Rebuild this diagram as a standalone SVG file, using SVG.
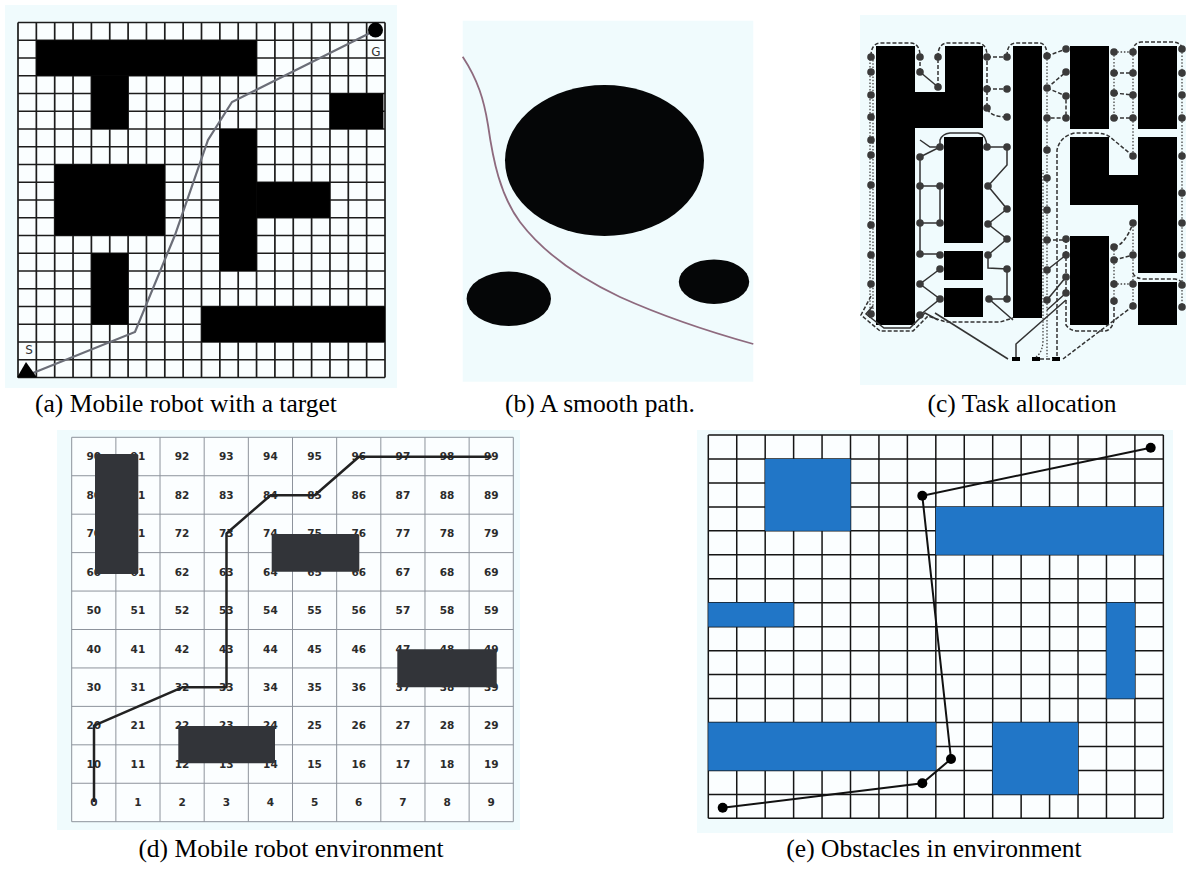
<svg xmlns="http://www.w3.org/2000/svg" width="1186" height="869" viewBox="0 0 1186 869">
<style>
.bg{fill:#f0fbfd}
.cap{font-family:"Liberation Serif","Times New Roman",serif;font-size:25.5px;fill:#000;text-anchor:middle}
.ga{fill:none;stroke:#1c1c1c;stroke-width:1.7}
.gd{fill:none;stroke:#8d939c;stroke-width:1}
.ge{fill:none;stroke:#151515;stroke-width:1.5}
.obA{fill:#000}
.obD{fill:#323439}
.obE{fill:#2176c7}
.num{font-family:"DejaVu Sans",Verdana,sans-serif;font-size:10.5px;font-weight:bold;fill:#2b2b2b;text-anchor:middle}
.lbl{font-family:"DejaVu Sans","Liberation Sans",sans-serif;font-size:12px;fill:#333;text-anchor:middle}
.dot{fill:#3a3a3a}
.sd{fill:none;stroke:#333;stroke-width:1.5}
.dd{fill:none;stroke:#333;stroke-width:1.5;stroke-dasharray:4 2}
.dt{fill:none;stroke:#444;stroke-width:1.3;stroke-dasharray:1.5 1.8}
</style>

<!-- Panel (a) -->
<g id="panel-a">
<rect class="bg" x="5" y="5" width="392" height="383"/>
<rect x="18" y="22.5" width="367" height="355" fill="#fafeff"/>
<path class="ga" d="M18,22.5V377.5M36.35,22.5V377.5M54.7,22.5V377.5M73.05,22.5V377.5M91.4,22.5V377.5M109.75,22.5V377.5M128.1,22.5V377.5M146.45,22.5V377.5M164.8,22.5V377.5M183.15,22.5V377.5M201.5,22.5V377.5M219.85,22.5V377.5M238.2,22.5V377.5M256.55,22.5V377.5M274.9,22.5V377.5M293.25,22.5V377.5M311.6,22.5V377.5M329.95,22.5V377.5M348.3,22.5V377.5M366.65,22.5V377.5M385,22.5V377.5M18,22.5H385M18,40.25H385M18,58H385M18,75.75H385M18,93.5H385M18,111.25H385M18,129H385M18,146.75H385M18,164.5H385M18,182.25H385M18,200H385M18,217.75H385M18,235.5H385M18,253.25H385M18,271H385M18,288.75H385M18,306.5H385M18,324.25H385M18,342H385M18,359.75H385M18,377.5H385"/>
<rect class="obA" x="36.35" y="40.25" width="220.2" height="35.5"/>
<rect class="obA" x="91.4" y="75.75" width="36.7" height="53.25"/>
<rect class="obA" x="329.95" y="93.5" width="53.5" height="35.5"/>
<rect class="obA" x="54.7" y="164.5" width="110.1" height="71"/>
<rect class="obA" x="219.85" y="129" width="36.7" height="142"/>
<rect class="obA" x="256.55" y="182.25" width="73.4" height="35.5"/>
<rect class="obA" x="91.4" y="253.25" width="36.7" height="71"/>
<rect class="obA" x="201.5" y="306.5" width="183.5" height="35.5"/>
<polyline points="28,375 135,332 175,235 208,140 232,102 376,30" fill="none" stroke="#6b6e78" stroke-width="2.2"/>
<polygon points="17,377.5 37,377.5 26,362" fill="#000"/>
<circle cx="375.5" cy="30" r="7.5" fill="#000"/>
<text class="lbl" x="29" y="354">S</text>
<text class="lbl" x="376" y="56">G</text>
</g>
<text class="cap" x="186" y="412">(a) Mobile robot with a target</text>

<!-- Panel (b) -->
<g id="panel-b">
<rect class="bg" x="462.7" y="20.7" width="290.6" height="361"/>
<ellipse cx="604.5" cy="160.5" rx="99.5" ry="75.5" fill="#050607"/>
<ellipse cx="508.8" cy="298.8" rx="42.2" ry="27.2" fill="#050607"/>
<ellipse cx="714" cy="281.7" rx="35.2" ry="22.3" fill="#050607"/>
<path d="M462.7,56.7 C478,80 484,100 488,125 C493,160 500,195 520,222 C545,255 580,278 620,297 C660,315 710,332 753.3,344" fill="none" stroke="#8e6a7e" stroke-width="1.8"/>
</g>
<text class="cap" x="600" y="412">(b) A smooth path.</text>

<!-- Panel (c) -->
<g id="panel-c">
<rect class="bg" x="860" y="15" width="326" height="370"/>
<g id="c-blocks">
<path class="obA" d="M876,46H915V92H945V46H983V128H915V325H876Z"/>
<rect class="obA" x="944" y="137" width="39" height="106"/>
<rect class="obA" x="944" y="251" width="39" height="29"/>
<rect class="obA" x="944" y="288" width="39" height="29"/>
<rect class="obA" x="1013" y="46" width="29" height="272"/>
<rect class="obA" x="1070" y="46" width="39" height="83"/>
<rect class="obA" x="1138" y="46" width="39" height="83"/>
<path class="obA" d="M1070,137H1109V175H1138V137H1177V273H1138V205H1070Z"/>
<rect class="obA" x="1070" y="236" width="39" height="89"/>
<rect class="obA" x="1138" y="282" width="39" height="43"/>
<rect class="obA" x="1012" y="357" width="8" height="4"/>
<rect class="obA" x="1032" y="357" width="8" height="4"/>
<rect class="obA" x="1052" y="357" width="8" height="4"/>
</g>
<g id="c-routes">
<path class="dd" d="M871,56Q871,44 880,43H911Q920,44 920,56V72"/>
<path class="dd" d="M938,87V56Q938,44 947,43H978Q987,44 987,56V108Q990,117 1007,117"/>
<path class="dd" d="M987,57H1007M987,89H1007"/>
<path class="dd" d="M1007,56Q1007,44 1015,43H1040Q1047,44 1047,56"/>
<path class="dd" d="M1133,52Q1133,43 1141,42H1173Q1182,43 1182,49"/>
<path class="dt" d="M870,56V318M873,60V314"/>
<path class="sd" d="M920,72L938,87"/>
<path class="sd" d="M920,140L930,147H940M920,157L940,147V140Q942,134 950,133H978Q986,134 987,147"/>
<path class="sd" d="M920,157V254M920,186H940V223M920,223H940M920,254H940M940,269L920,284L940,299L920,315"/>
<path class="sd" d="M987,147H1007V165L988,186L1007,209L988,224L1007,239L988,255V268L1007,269V299H989L1013,320"/>
<path class="dt" d="M1047,56V357"/>
<path class="dd" d="M1047,56L1066,49M1047,88L1066,72M1047,88L1066,96V118H1047"/>
<path class="dd" d="M1133,156L1110,137Q1105,133 1095,133H1075Q1060,136 1057,150V357"/>
<path class="dd" d="M1047,240H1066V293M1066,300V325Q1070,331 1078,331H1105Q1112,330 1114,320V301"/>
<path class="sd" d="M1047,270L1066,255M1047,300L1066,277M1047,310L1066,293"/>
<path class="dt" d="M1114,52V118M1133,52V156M1114,52H1133M1114,247V301M1133,223V306M1182,49V307"/>
<path class="dd" d="M1114,73H1133M1114,93L1133,95M1114,118H1133M1114,247Q1125,245 1133,223M1114,260L1133,255"/>
<path class="dt" d="M1114,284H1133"/>
<path class="dd" d="M1133,273Q1135,279 1145,279H1175Q1182,280 1182,285"/>
<path class="dd" d="M1133,306L1063,359"/>
<path class="dd" d="M871,296L861,315L880,331H913L928,316L946,322H1000L1013,318"/>
<path class="sd" d="M873,306L866,314L884,328H910L925,313L938,320"/>
<path class="sd" d="M935,313L1008,359"/>
<path class="sd" d="M1016,357V344L1066,300"/>
<path class="dd" d="M1040,359H1053"/>
<path class="dt" d="M1036,357Q1043,352 1043,340V170"/>
</g>
<g id="c-dots" class="dot">
<circle cx="871" cy="57" r="3.8"/><circle cx="871" cy="72" r="3.8"/><circle cx="871" cy="95" r="3.8"/><circle cx="871" cy="117" r="3.8"/><circle cx="871" cy="140" r="3.8"/><circle cx="871" cy="155" r="3.8"/><circle cx="871" cy="185" r="3.8"/><circle cx="871" cy="225" r="3.8"/><circle cx="871" cy="255" r="3.8"/><circle cx="871" cy="284" r="3.8"/><circle cx="871" cy="314" r="3.8"/>
<circle cx="920" cy="57" r="3.8"/><circle cx="920" cy="72" r="3.8"/><circle cx="920" cy="157" r="3.8"/><circle cx="920" cy="186" r="3.8"/><circle cx="920" cy="223" r="3.8"/><circle cx="920" cy="254" r="3.8"/><circle cx="920" cy="284" r="3.8"/><circle cx="920" cy="315" r="3.8"/>
<circle cx="938" cy="57" r="3.8"/><circle cx="938" cy="87" r="3.8"/>
<circle cx="940" cy="147" r="3.8"/><circle cx="940" cy="186" r="3.8"/><circle cx="940" cy="223" r="3.8"/><circle cx="940" cy="255" r="3.8"/><circle cx="940" cy="269" r="3.8"/><circle cx="940" cy="299" r="3.8"/>
<circle cx="987" cy="57" r="3.8"/><circle cx="987" cy="89" r="3.8"/><circle cx="987" cy="108" r="3.8"/><circle cx="987" cy="147" r="3.8"/><circle cx="988" cy="186" r="3.8"/><circle cx="988" cy="224" r="3.8"/><circle cx="988" cy="255" r="3.8"/><circle cx="989" cy="299" r="3.8"/>
<circle cx="1007" cy="57" r="3.8"/><circle cx="1007" cy="89" r="3.8"/><circle cx="1007" cy="117" r="3.8"/><circle cx="1007" cy="147" r="3.8"/><circle cx="1007" cy="209" r="3.8"/><circle cx="1007" cy="239" r="3.8"/><circle cx="1007" cy="269" r="3.8"/><circle cx="1007" cy="299" r="3.8"/>
<circle cx="1047" cy="56" r="3.8"/><circle cx="1047" cy="88" r="3.8"/><circle cx="1047" cy="118" r="3.8"/><circle cx="1047" cy="150" r="3.8"/><circle cx="1047" cy="178" r="3.8"/><circle cx="1047" cy="210" r="3.8"/><circle cx="1047" cy="240" r="3.8"/><circle cx="1047" cy="270" r="3.8"/><circle cx="1047" cy="300" r="3.8"/>
<circle cx="1066" cy="49" r="3.8"/><circle cx="1066" cy="72" r="3.8"/><circle cx="1066" cy="96" r="3.8"/><circle cx="1066" cy="118" r="3.8"/><circle cx="1066" cy="239" r="3.8"/><circle cx="1066" cy="255" r="3.8"/><circle cx="1066" cy="277" r="3.8"/><circle cx="1066" cy="293" r="3.8"/>
<circle cx="1114" cy="52" r="3.8"/><circle cx="1114" cy="73" r="3.8"/><circle cx="1114" cy="93" r="3.8"/><circle cx="1114" cy="118" r="3.8"/><circle cx="1114" cy="247" r="3.8"/><circle cx="1114" cy="260" r="3.8"/><circle cx="1114" cy="284" r="3.8"/><circle cx="1114" cy="301" r="3.8"/>
<circle cx="1133" cy="52" r="3.8"/><circle cx="1133" cy="73" r="3.8"/><circle cx="1133" cy="95" r="3.8"/><circle cx="1133" cy="118" r="3.8"/><circle cx="1133" cy="156" r="3.8"/><circle cx="1133" cy="223" r="3.8"/><circle cx="1133" cy="255" r="3.8"/><circle cx="1133" cy="284" r="3.8"/><circle cx="1133" cy="306" r="3.8"/>
<circle cx="1182" cy="49" r="3.8"/><circle cx="1182" cy="73" r="3.8"/><circle cx="1182" cy="95" r="3.8"/><circle cx="1182" cy="118" r="3.8"/><circle cx="1182" cy="156" r="3.8"/><circle cx="1182" cy="193" r="3.8"/><circle cx="1182" cy="223" r="3.8"/><circle cx="1182" cy="255" r="3.8"/><circle cx="1182" cy="285" r="3.8"/><circle cx="1182" cy="307" r="3.8"/>
</g>
</g>
<text class="cap" x="1022" y="412">(c) Task allocation</text>

<!-- Panel (d) -->
<g id="panel-d">
<rect class="bg" x="57" y="430" width="463" height="400"/>
<rect x="71.7" y="437.3" width="441.6" height="384.4" fill="#fbfeff"/>
<path class="gd" d="M71.7,437.3V821.7M115.86,437.3V821.7M160.02,437.3V821.7M204.18,437.3V821.7M248.34,437.3V821.7M292.5,437.3V821.7M336.66,437.3V821.7M380.82,437.3V821.7M424.98,437.3V821.7M469.14,437.3V821.7M513.3,437.3V821.7M71.7,437.3H513.3M71.7,475.74H513.3M71.7,514.18H513.3M71.7,552.62H513.3M71.7,591.06H513.3M71.7,629.5H513.3M71.7,667.94H513.3M71.7,706.38H513.3M71.7,744.82H513.3M71.7,783.26H513.3M71.7,821.7H513.3"/>
<g id="d-numbers" class="num">
<text y="460.3"><tspan x="93.8">90</tspan><tspan x="137.9">91</tspan><tspan x="182.1">92</tspan><tspan x="226.3">93</tspan><tspan x="270.4">94</tspan><tspan x="314.6">95</tspan><tspan x="358.7">96</tspan><tspan x="402.9">97</tspan><tspan x="447.1">98</tspan><tspan x="491.2">99</tspan></text>
<text y="498.8"><tspan x="93.8">80</tspan><tspan x="137.9">81</tspan><tspan x="182.1">82</tspan><tspan x="226.3">83</tspan><tspan x="270.4">84</tspan><tspan x="314.6">85</tspan><tspan x="358.7">86</tspan><tspan x="402.9">87</tspan><tspan x="447.1">88</tspan><tspan x="491.2">89</tspan></text>
<text y="537.2"><tspan x="93.8">70</tspan><tspan x="137.9">71</tspan><tspan x="182.1">72</tspan><tspan x="226.3">73</tspan><tspan x="270.4">74</tspan><tspan x="314.6">75</tspan><tspan x="358.7">76</tspan><tspan x="402.9">77</tspan><tspan x="447.1">78</tspan><tspan x="491.2">79</tspan></text>
<text y="575.6"><tspan x="93.8">60</tspan><tspan x="137.9">61</tspan><tspan x="182.1">62</tspan><tspan x="226.3">63</tspan><tspan x="270.4">64</tspan><tspan x="314.6">65</tspan><tspan x="358.7">66</tspan><tspan x="402.9">67</tspan><tspan x="447.1">68</tspan><tspan x="491.2">69</tspan></text>
<text y="614.1"><tspan x="93.8">50</tspan><tspan x="137.9">51</tspan><tspan x="182.1">52</tspan><tspan x="226.3">53</tspan><tspan x="270.4">54</tspan><tspan x="314.6">55</tspan><tspan x="358.7">56</tspan><tspan x="402.9">57</tspan><tspan x="447.1">58</tspan><tspan x="491.2">59</tspan></text>
<text y="652.5"><tspan x="93.8">40</tspan><tspan x="137.9">41</tspan><tspan x="182.1">42</tspan><tspan x="226.3">43</tspan><tspan x="270.4">44</tspan><tspan x="314.6">45</tspan><tspan x="358.7">46</tspan><tspan x="402.9">47</tspan><tspan x="447.1">48</tspan><tspan x="491.2">49</tspan></text>
<text y="691"><tspan x="93.8">30</tspan><tspan x="137.9">31</tspan><tspan x="182.1">32</tspan><tspan x="226.3">33</tspan><tspan x="270.4">34</tspan><tspan x="314.6">35</tspan><tspan x="358.7">36</tspan><tspan x="402.9">37</tspan><tspan x="447.1">38</tspan><tspan x="491.2">39</tspan></text>
<text y="729.4"><tspan x="93.8">20</tspan><tspan x="137.9">21</tspan><tspan x="182.1">22</tspan><tspan x="226.3">23</tspan><tspan x="270.4">24</tspan><tspan x="314.6">25</tspan><tspan x="358.7">26</tspan><tspan x="402.9">27</tspan><tspan x="447.1">28</tspan><tspan x="491.2">29</tspan></text>
<text y="767.8"><tspan x="93.8">10</tspan><tspan x="137.9">11</tspan><tspan x="182.1">12</tspan><tspan x="226.3">13</tspan><tspan x="270.4">14</tspan><tspan x="314.6">15</tspan><tspan x="358.7">16</tspan><tspan x="402.9">17</tspan><tspan x="447.1">18</tspan><tspan x="491.2">19</tspan></text>
<text y="806.3"><tspan x="93.8">0</tspan><tspan x="137.9">1</tspan><tspan x="182.1">2</tspan><tspan x="226.3">3</tspan><tspan x="270.4">4</tspan><tspan x="314.6">5</tspan><tspan x="358.7">6</tspan><tspan x="402.9">7</tspan><tspan x="447.1">8</tspan><tspan x="491.2">9</tspan></text>
</g>
<rect class="obD" x="95" y="454" width="43.3" height="120" rx="1.5"/>
<rect class="obD" x="271.7" y="534" width="87.6" height="37.7" rx="1.5"/>
<rect class="obD" x="397.3" y="649.3" width="99.4" height="38" rx="1.5"/>
<rect class="obD" x="178.3" y="726" width="96.7" height="37.3" rx="1.5"/>
<polyline points="94,802 94,725.6 182.2,687.3 226.5,687.3 226.5,533.5 270.6,495.2 314.8,495.2 359,456.8 491.6,456.8" fill="none" stroke="#222" stroke-width="2.5" stroke-linejoin="round"/>
</g>
<text class="cap" x="291" y="857">(d) Mobile robot environment</text>

<!-- Panel (e) -->
<g id="panel-e">
<rect class="bg" x="697" y="430" width="476" height="403"/>
<rect x="708.3" y="435" width="455" height="383.4" fill="#fbfeff"/>
<path class="ge" d="M708.3,435V818.36M736.74,435V818.36M765.18,435V818.36M793.62,435V818.36M822.06,435V818.36M850.5,435V818.36M878.94,435V818.36M907.38,435V818.36M935.82,435V818.36M964.26,435V818.36M992.7,435V818.36M1021.14,435V818.36M1049.58,435V818.36M1078.02,435V818.36M1106.46,435V818.36M1134.9,435V818.36M1163.34,435V818.36M708.3,435H1163.34M708.3,458.96H1163.34M708.3,482.92H1163.34M708.3,506.88H1163.34M708.3,530.84H1163.34M708.3,554.8H1163.34M708.3,578.76H1163.34M708.3,602.72H1163.34M708.3,626.68H1163.34M708.3,650.64H1163.34M708.3,674.6H1163.34M708.3,698.56H1163.34M708.3,722.52H1163.34M708.3,746.48H1163.34M708.3,770.44H1163.34M708.3,794.4H1163.34M708.3,818.36H1163.34"/>
<rect class="obE" x="765.18" y="458.96" width="85.32" height="71.88"/>
<rect class="obE" x="935.82" y="506.88" width="227.52" height="47.92"/>
<rect class="obE" x="708.3" y="602.72" width="85.32" height="23.96"/>
<rect class="obE" x="1106.46" y="602.72" width="28.44" height="95.84"/>
<rect class="obE" x="708.3" y="722.52" width="227.52" height="47.92"/>
<rect class="obE" x="992.7" y="722.52" width="85.32" height="71.88"/>
<polyline points="722.7,807.7 922.3,783.3 951,759 922.3,495.7 1150.7,447.7" fill="none" stroke="#111" stroke-width="2"/>
<g fill="#000">
<circle cx="722.7" cy="807.7" r="5"/><circle cx="922.3" cy="783.3" r="5"/><circle cx="951" cy="759" r="5"/><circle cx="922.3" cy="495.7" r="5"/><circle cx="1150.7" cy="447.7" r="5"/>
</g>
</g>
<text class="cap" x="934" y="857">(e) Obstacles in environment</text>
</svg>
